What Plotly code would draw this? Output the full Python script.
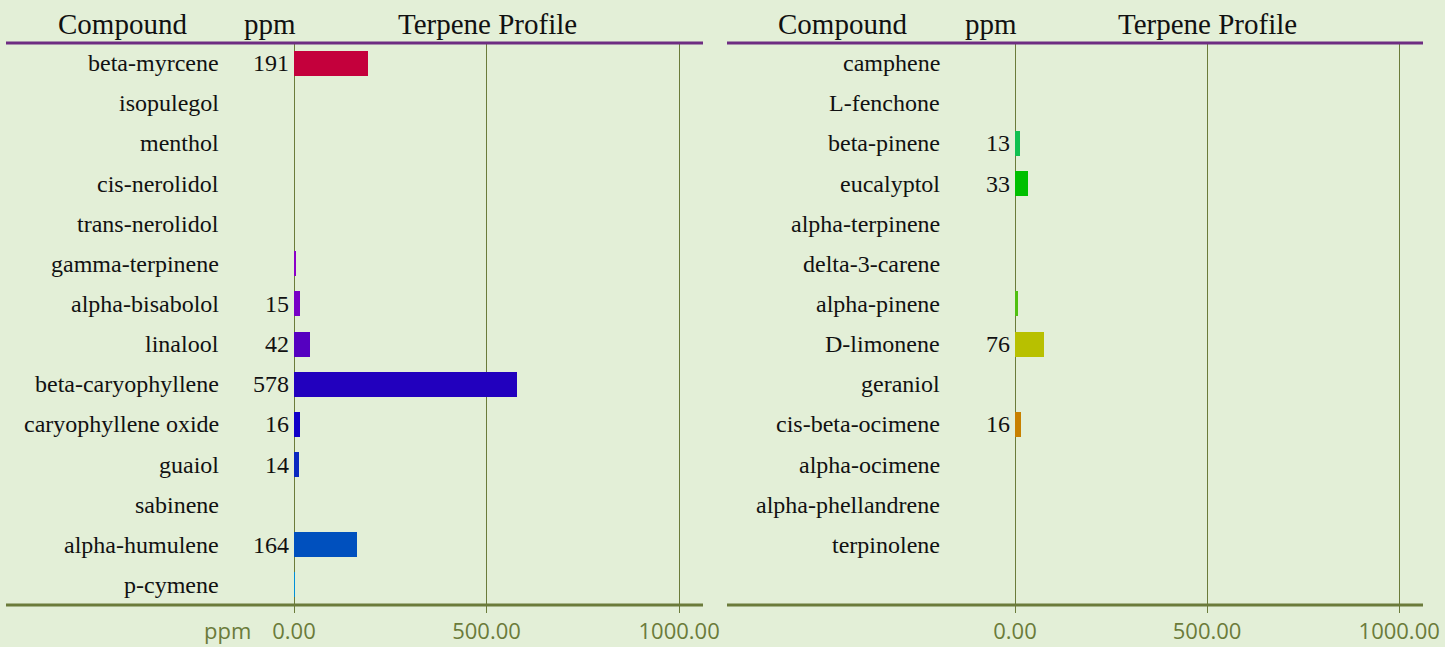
import plotly.graph_objects as go

W, H = 1445, 647

left_compounds = ["beta-myrcene", "isopulegol", "menthol", "cis-nerolidol", "trans-nerolidol",
                  "gamma-terpinene", "alpha-bisabolol", "linalool", "beta-caryophyllene",
                  "caryophyllene oxide", "guaiol", "sabinene", "alpha-humulene", "p-cymene"]
left_ppm = [191, 0, 0, 0, 0, 4, 15, 42, 578, 16, 14, 0, 164, 1]
left_colors = ["#C4003C", "#B0009A", "#A000B0", "#9600BC", "#9000C2", "#8C00C8", "#7800C6",
               "#5500C0", "#2200BE", "#1000C8", "#0A28C0", "#0040C0", "#0050BE", "#0090D8"]

right_compounds = ["camphene", "L-fenchone", "beta-pinene", "eucalyptol", "alpha-terpinene",
                   "delta-3-carene", "alpha-pinene", "D-limonene", "geraniol", "cis-beta-ocimene",
                   "alpha-ocimene", "alpha-phellandrene", "terpinolene"]
right_ppm = [0, 0, 13, 33, 0, 0, 7, 76, 0, 16, 0, 0, 0]
right_colors = ["#00C0A0", "#00C080", "#10C050", "#00C000", "#20C000", "#40C000", "#50C010",
                "#B8C000", "#C8A000", "#C88000", "#C86000", "#C84000", "#C82000"]

x_ticks = [0, 500, 1000]
x_tick_labels = ["0.00", "500.00", "1000.00"]
headers = ["Compound", "ppm", "Terpene Profile"]

OLIVE = "#6B7B3A"
PURPLE = "#6E2C82"
SERIF = "Liberation Serif, Times New Roman, serif"
SANS = "Open Sans, sans-serif"

def px_x(p):
    return p / W

def px_y(p):
    return 1 - p / H

fig = go.Figure()
fig.add_trace(go.Bar(y=left_compounds, x=left_ppm, orientation="h", marker=dict(color=left_colors, line=dict(width=0)),
                     width=0.62, xaxis="x", yaxis="y", hoverinfo="x+y"))
fig.add_trace(go.Bar(y=right_compounds, x=right_ppm, orientation="h", marker=dict(color=right_colors, line=dict(width=0)),
                     width=0.62, xaxis="x2", yaxis="y2", hoverinfo="x+y"))

ydom = [px_y(605), px_y(43)]
xr = [0, 1062]
axis_common = dict(range=xr, tickvals=x_ticks, ticktext=x_tick_labels, showgrid=True, gridcolor=OLIVE,
                   gridwidth=1, zeroline=True, zerolinecolor=OLIVE, zerolinewidth=1, showline=False,
                   ticks="outside", ticklen=7, tickcolor=OLIVE, tickwidth=1, automargin=False,
                   tickfont=dict(family=SANS, size=22, color=OLIVE), ticklabelstandoff=0, fixedrange=True)

fig.update_layout(
    width=W, height=H,
    margin=dict(l=0, r=0, t=0, b=0, autoexpand=False),
    paper_bgcolor="#E3EFD7",
    plot_bgcolor="rgba(0,0,0,0)",
    showlegend=False,
    bargap=0,
    xaxis=dict(domain=[px_x(294), px_x(703)], anchor="y", **axis_common),
    xaxis2=dict(domain=[px_x(1015), px_x(1423)], anchor="y2", **axis_common),
    yaxis=dict(domain=ydom, anchor="x", type="category", categoryarray=left_compounds, automargin=False,
               range=[13.5, -0.5], showticklabels=False, showgrid=False, zeroline=False, fixedrange=True),
    yaxis2=dict(domain=ydom, anchor="x2", type="category", categoryarray=right_compounds, automargin=False,
                range=[13.5, -0.5], showticklabels=False, showgrid=False, zeroline=False, fixedrange=True),
)

annotations = []
for xa, ya, comps, vals in [("x", "y", left_compounds, left_ppm), ("x2", "y2", right_compounds, right_ppm)]:
    for c, v in zip(comps, vals):
        annotations.append(dict(xref=xa, yref=ya, x=0, y=c, text=c, showarrow=False, xanchor="right",
                                yanchor="middle", xshift=-73, font=dict(family=SERIF, size=24, color="#111111")))
        if v >= 10:
            annotations.append(dict(xref=xa, yref=ya, x=0, y=c, text=str(v), showarrow=False, xanchor="right",
                                    yanchor="middle", xshift=-3, font=dict(family=SERIF, size=24, color="#111111")))

for centers in [(122, 270, 487), (843, 991, 1207)]:
    for h, cx in zip(headers, centers):
        annotations.append(dict(xref="paper", yref="paper", x=px_x(cx), y=px_y(24), text=h, showarrow=False,
                                xanchor="center", yanchor="middle", font=dict(family=SERIF, size=29, color="#111111")))

annotations.append(dict(xref="paper", yref="paper", x=px_x(227), y=px_y(630), text="ppm", showarrow=False,
                        xanchor="center", yanchor="middle", font=dict(family=SANS, size=22, color=OLIVE)))
fig.update_layout(annotations=annotations)

shapes = []
for x0, x1 in [(6, 703), (727, 1423)]:
    shapes.append(dict(type="line", xref="paper", yref="paper", x0=px_x(x0), x1=px_x(x1), y0=px_y(43), y1=px_y(43),
                       line=dict(color=PURPLE, width=3)))
    shapes.append(dict(type="line", xref="paper", yref="paper", x0=px_x(x0), x1=px_x(x1), y0=px_y(605), y1=px_y(605),
                       line=dict(color=OLIVE, width=3)))
fig.update_layout(shapes=shapes)

fig.write_html("out.html", config={"displayModeBar": False},
               post_script="document.body.style.margin='0';document.body.style.overflow='hidden';")
